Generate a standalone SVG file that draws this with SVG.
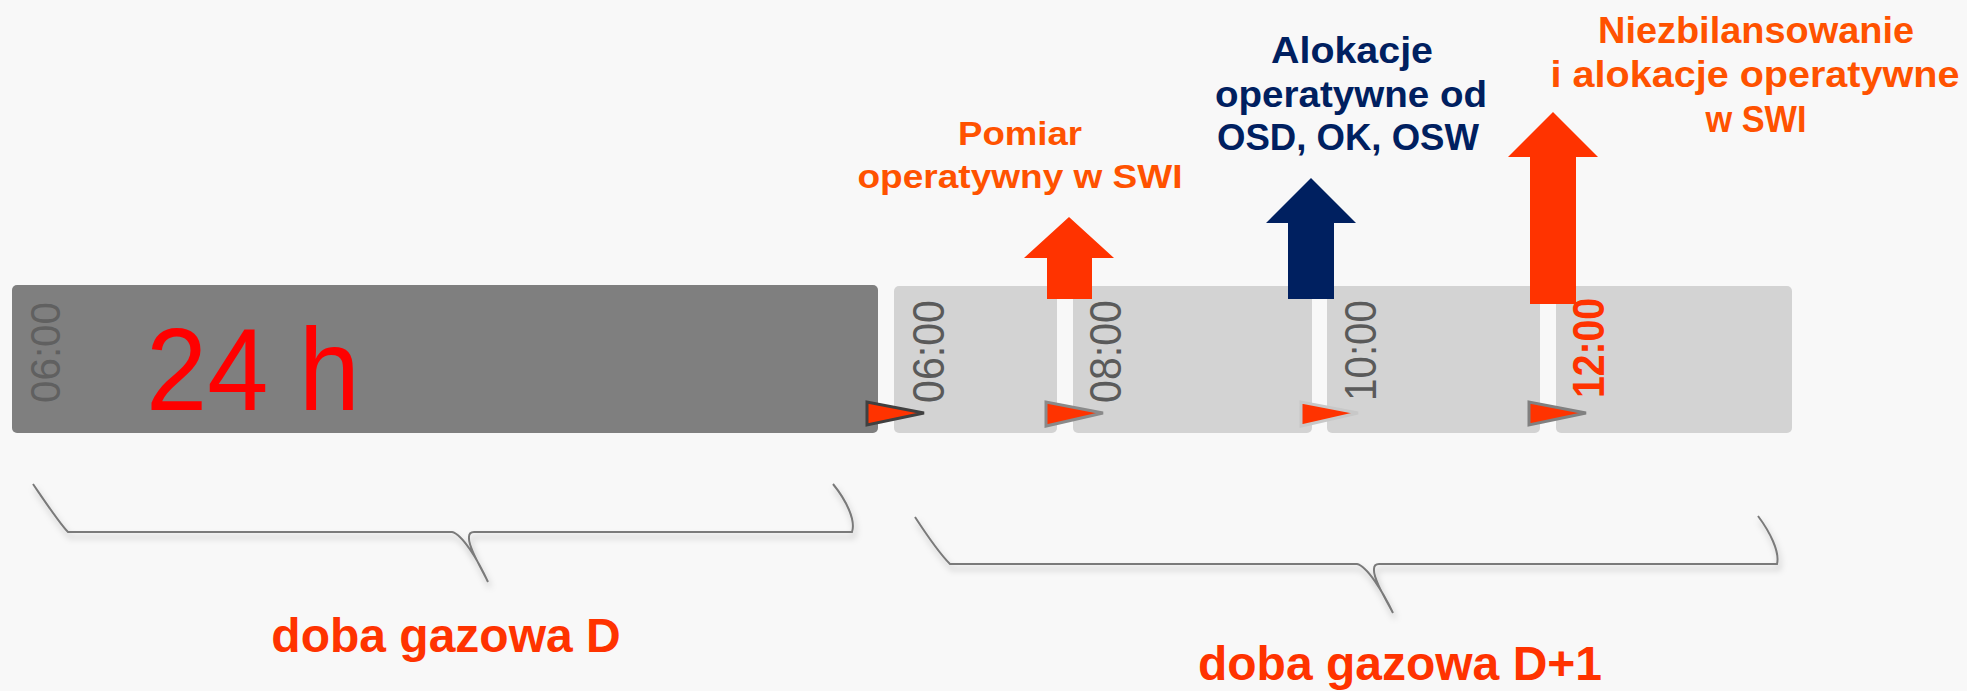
<svg xmlns="http://www.w3.org/2000/svg" width="1967" height="691" viewBox="0 0 1967 691">
<style>
.bg{fill:#f8f8f8}
.dark{fill:#7f7f7f}
.slot{fill:#d3d3d3}
.time{font-family:"Liberation Sans",Arial,sans-serif;font-size:44px;fill:#5a5a5a}
.top{font-family:"Liberation Sans",Arial,sans-serif;font-weight:bold;text-anchor:middle}
.or{fill:#ff5200}
.navy{fill:#002060}
.day{font-family:"Liberation Sans",Arial,sans-serif;font-weight:bold;font-size:48px;fill:#ff3300;text-anchor:middle}
.brace{fill:none;stroke:#7a7a7a;stroke-width:2;filter:url(#sh)}
.flag{fill:#ff3300;stroke-width:3;stroke-linejoin:miter}
</style>
<defs>
<filter id="sh" x="-5%" y="-30%" width="110%" height="160%">
<feDropShadow dx="2" dy="5" stdDeviation="3" flood-color="#000" flood-opacity="0.25"/>
</filter>
</defs>
<rect class="bg" x="0" y="0" width="1967" height="691"/>

<g id="day-d">
<rect class="dark" x="12" y="285" width="866" height="148" rx="5"/>
<text class="time" style="fill:#606060;font-size:42px" transform="translate(60,403) rotate(-90)" textLength="101" lengthAdjust="spacingAndGlyphs">06:00</text>
<text x="146" y="410" font-family="Liberation Sans, Arial, sans-serif" font-size="116" fill="#ff0000" textLength="214" lengthAdjust="spacingAndGlyphs">24 h</text>
</g>

<g id="slot-1">
<rect class="slot" x="894" y="286" width="163" height="147" rx="5"/>
<text class="time" transform="translate(944,403) rotate(-90)" textLength="103" lengthAdjust="spacingAndGlyphs">06:00</text>
</g>
<g id="slot-2">
<rect class="slot" x="1073" y="286" width="239" height="147" rx="5"/>
<text class="time" transform="translate(1121,403) rotate(-90)" textLength="103" lengthAdjust="spacingAndGlyphs">08:00</text>
</g>
<g id="slot-3">
<rect class="slot" x="1327" y="286" width="213" height="147" rx="5"/>
<text class="time" transform="translate(1376,401) rotate(-90)" textLength="101" lengthAdjust="spacingAndGlyphs">10:00</text>
</g>
<g id="slot-4">
<rect class="slot" x="1556" y="286" width="236" height="147" rx="5"/>
<text class="time" style="fill:#ff3300;font-weight:bold" transform="translate(1604,398) rotate(-90)" textLength="100" lengthAdjust="spacingAndGlyphs">12:00</text>
</g>

<g id="flags">
<polygon class="flag" stroke="#404040" points="867,402 867,425 924,413"/>
<polygon class="flag" stroke="#8a8a8a" points="1046,402 1046,426 1103,413"/>
<polygon class="flag" stroke="#c8c8c8" points="1301,402 1301,426 1358,413"/>
<polygon class="flag" stroke="#808080" points="1529,402 1529,425 1586,413"/>
</g>

<g id="connectors">
<polygon fill="#ff3300" points="1069,217 1114,258 1092,258 1092,299 1047,299 1047,258 1024,258"/>
<polygon fill="#002060" points="1311,178 1356,223 1334,223 1334,299 1288,299 1288,223 1266,223"/>
<polygon fill="#ff3300" points="1553,112 1598,157 1576,157 1576,304 1530,304 1530,157 1508,157"/>
</g>

<g id="label-pomiar" class="top or" font-size="33">
<text x="1020" y="145" textLength="124" lengthAdjust="spacingAndGlyphs">Pomiar</text>
<text x="1020" y="188" textLength="325" lengthAdjust="spacingAndGlyphs">operatywny w SWI</text>
</g>
<g id="label-alokacje" class="top navy" font-size="36">
<text x="1352" y="63" textLength="162" lengthAdjust="spacingAndGlyphs">Alokacje</text>
<text x="1351" y="107" textLength="272" lengthAdjust="spacingAndGlyphs">operatywne od</text>
<text x="1348" y="150" textLength="262" lengthAdjust="spacingAndGlyphs">OSD, OK, OSW</text>
</g>
<g id="label-niezbilansowanie" class="top or" font-size="36">
<text x="1756" y="43" textLength="316" lengthAdjust="spacingAndGlyphs">Niezbilansowanie</text>
<text x="1755" y="87" textLength="409" lengthAdjust="spacingAndGlyphs">i alokacje operatywne</text>
<text x="1756" y="132" textLength="101" lengthAdjust="spacingAndGlyphs">w SWI</text>
</g>

<g id="brace-d">
<path class="brace" d="M33,484 C48,506 60,524 68,532 L452,532 C462,534 478,560 488,582 C480,566 468,546 469,537 Q469,532 474,532 L852,532 C856,520 846,500 833,484"/>
<text class="day" x="446" y="652">doba gazowa D</text>
</g>
<g id="brace-d1">
<path class="brace" d="M915,517 C930,540 942,556 950,564 L1357,564 C1367,566 1383,592 1393,613 C1385,598 1373,578 1374,569 Q1374,564 1379,564 L1777,564 C1780,552 1770,532 1758,516"/>
<text class="day" x="1400" y="680">doba gazowa D+1</text>
</g>
</svg>
